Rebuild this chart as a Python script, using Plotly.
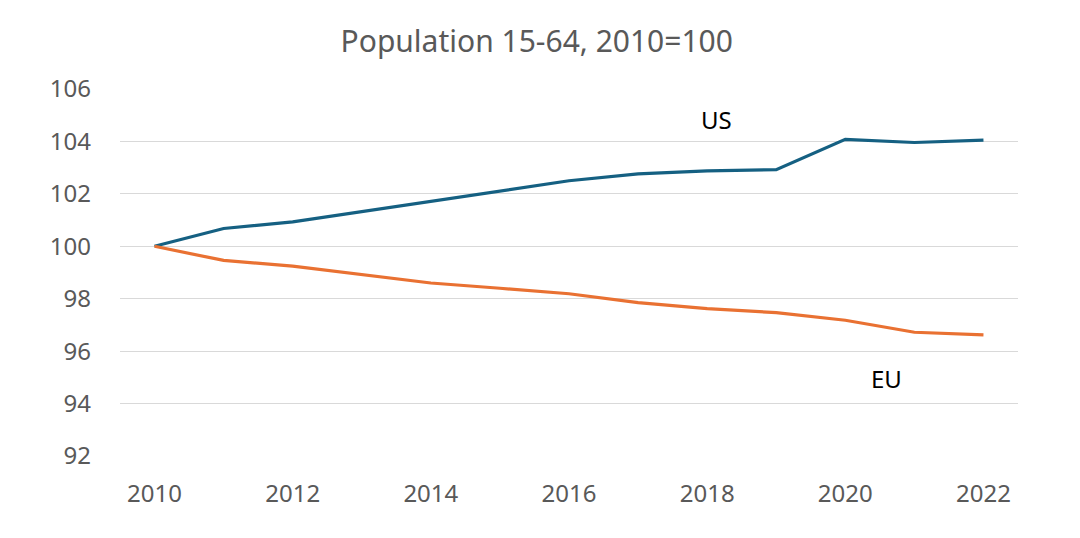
import plotly.graph_objects as go

years = list(range(2010, 2023))
us = [100.0, 100.68, 100.93, 101.32, 101.70, 102.12, 102.50, 102.76, 102.88, 102.92, 104.08, 103.96, 104.05]
eu = [100.0, 99.46, 99.24, 98.92, 98.60, 98.40, 98.19, 97.85, 97.62, 97.47, 97.18, 96.72, 96.62]
y_ticks = [92, 94, 96, 98, 100, 102, 104, 106]
x_ticks = [2010, 2012, 2014, 2016, 2018, 2020, 2022]

FONT = "Noto Sans, Open Sans, Arial"

fig = go.Figure()
fig.add_trace(go.Scatter(x=years, y=us, mode="lines", name="US",
                         line=dict(color="#156082", width=3.2)))
fig.add_trace(go.Scatter(x=years, y=eu, mode="lines", name="EU",
                         line=dict(color="#E97132", width=3.2)))

fig.add_annotation(x=2018.14, y=104.84, text="US", showarrow=False,
                   font=dict(size=24, color="#000000", family=FONT))
fig.add_annotation(x=2020.59, y=94.95, text="EU", showarrow=False,
                   font=dict(size=24, color="#000000", family=FONT))

fig.update_layout(
    width=1080, height=538,
    paper_bgcolor="white", plot_bgcolor="white",
    margin=dict(l=120, r=62, t=89, b=82),
    showlegend=False,
    title=dict(text="Population 15-64, 2010=100", x=0.497, xanchor="center",
               y=0.922, yanchor="middle",
               font=dict(size=30, color="#595959", family=FONT)),
    font=dict(family=FONT, color="#595959", size=24),
)
fig.update_xaxes(range=[2009.5, 2022.5], tickvals=x_ticks, ticktext=[str(t) for t in x_ticks],
                 showgrid=False, zeroline=False, showline=False, ticks="",
                 ticklabelstandoff=21, tickfont=dict(size=24, color="#595959", family=FONT))
fig.update_yaxes(range=[92, 106], tickvals=y_ticks, showgrid=True, gridcolor="#D9D9D9",
                 gridwidth=1.4, zeroline=False, showline=False, ticks="",
                 ticklabelstandoff=28, tickfont=dict(size=24, color="#595959", family=FONT))

fig.write_html("out.html", config={"displayModeBar": False},
               post_script="document.body.style.margin='0';")
